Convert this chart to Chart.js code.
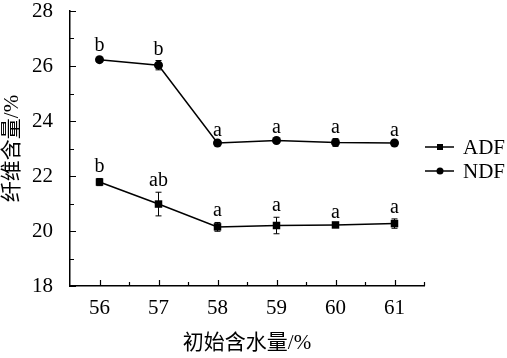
<!DOCTYPE html>
<html>
<head>
<meta charset="utf-8">
<script src="https://cdn.jsdelivr.net/npm/chart.js@4"></script>
<style>
  html, body { margin: 0; padding: 0; background: #fff; }
  #wrap { width: 507px; height: 358px; }
</style>
</head>
<body>
<div id="wrap"><canvas id="c" width="507" height="358"></canvas></div>
<script>
// --- data ---
const xCats = [56, 57, 58, 59, 60, 61];
const adfVals = [21.78, 20.98, 20.15, 20.20, 20.22, 20.27];
const adfErr  = [0.13, 0.43, 0.16, 0.30, 0.05, 0.17];
const ndfVals = [26.23, 26.03, 23.20, 23.29, 23.22, 23.20];
const ndfErr  = [0.08, 0.17, 0.05, 0.05, 0.14, 0.05];
const adfLetters = ['b', 'ab', 'a', 'a', 'a', 'a'];
const ndfLetters = ['b', 'b', 'a', 'a', 'a', 'a'];
const yTicks = [18, 20, 22, 24, 26, 28];

const SERIF = '"Liberation Serif", "Times New Roman", "Noto Sans CJK SC", serif';
const INK = '#000';

function pts(vals) {
  return xCats.map((x, i) => ({ x, y: vals[i] }));
}

// error bars, inward ticks, letters, legend
const decor = {
  id: 'decor',
  beforeDatasetsDraw(chart) {
    const { ctx, scales: { x, y } } = chart;
    ctx.save();
    ctx.strokeStyle = INK;
    ctx.lineWidth = 1;
    [[adfVals, adfErr], [ndfVals, ndfErr]].forEach(([vals, errs]) => {
      vals.forEach((v, i) => {
        const px = x.getPixelForValue(xCats[i]);
        const top = y.getPixelForValue(v + errs[i]);
        const bot = y.getPixelForValue(v - errs[i]);
        ctx.beginPath();
        ctx.moveTo(px, top); ctx.lineTo(px, bot);
        ctx.moveTo(px - 3, top); ctx.lineTo(px + 3, top);
        ctx.moveTo(px - 3, bot); ctx.lineTo(px + 3, bot);
        ctx.stroke();
      });
    });
    ctx.restore();
  },
  afterDraw(chart) {
    const { ctx, chartArea: a, scales: { x, y } } = chart;
    ctx.save();
    ctx.strokeStyle = INK;
    ctx.lineWidth = 1.2;
    ctx.beginPath();
    // y ticks (major at even, minor at odd)
    for (let v = 18; v <= 28; v++) {
      const py = Math.round(y.getPixelForValue(v)) + 0.5;
      const len = v % 2 === 0 ? 6 : 4;
      ctx.moveTo(a.left, py); ctx.lineTo(a.left + len, py);
    }
    // x ticks (major at integers, minor at halves)
    for (let v = 56; v <= 61.5; v += 0.5) {
      const px = Math.round(x.getPixelForValue(v)) + 0.5;
      const len = Number.isInteger(v) ? 6 : 4;
      ctx.moveTo(px, a.bottom); ctx.lineTo(px, a.bottom - len);
    }
    ctx.stroke();

    // significance letters
    ctx.fillStyle = INK;
    ctx.font = '20px ' + SERIF;
    ctx.textAlign = 'center';
    ctx.textBaseline = 'alphabetic';
    [[adfVals, adfErr, adfLetters], [ndfVals, ndfErr, ndfLetters]].forEach(([vals, errs, letters]) => {
      vals.forEach((v, i) => {
        const px = x.getPixelForValue(xCats[i]);
        const py = y.getPixelForValue(v + errs[i]) - 6;
        ctx.fillText(letters[i], px, py);
      });
    });

    // legend
    const items = [
      { label: 'ADF', style: 'rect', yy: 147 },
      { label: 'NDF', style: 'circle', yy: 171 }
    ];
    ctx.font = '21px ' + SERIF;
    ctx.textAlign = 'left';
    ctx.textBaseline = 'middle';
    items.forEach(it => {
      ctx.lineWidth = 1.5;
      ctx.beginPath();
      ctx.moveTo(425, it.yy); ctx.lineTo(454, it.yy);
      ctx.stroke();
      ctx.beginPath();
      if (it.style === 'rect') ctx.rect(437, it.yy - 3, 6, 6);
      else ctx.arc(440, it.yy, 3.5, 0, Math.PI * 2);
      ctx.fill();
      ctx.fillText(it.label, 463, it.yy + 1);
    });
    ctx.restore();
  }
};

new Chart(document.getElementById('c'), {
  type: 'line',
  data: {
    datasets: [
      {
        label: 'ADF',
        data: pts(adfVals),
        borderColor: INK,
        backgroundColor: INK,
        borderWidth: 1.5,
        pointStyle: 'rect',
        pointRadius: 5.3,
        pointBorderWidth: 0,
        tension: 0
      },
      {
        label: 'NDF',
        data: pts(ndfVals),
        borderColor: INK,
        backgroundColor: INK,
        borderWidth: 1.5,
        pointStyle: 'circle',
        pointRadius: 4.5,
        pointBorderWidth: 0,
        tension: 0
      }
    ]
  },
  options: {
    responsive: false,
    animation: false,
    events: [],
    layout: { padding: { left: 0, right: 83, top: 11, bottom: 0 } },
    plugins: { legend: { display: false }, tooltip: { enabled: false } },
    scales: {
      x: {
        type: 'linear',
        min: 55.5,
        max: 61.5,
        afterBuildTicks: s => { s.ticks = xCats.map(v => ({ value: v })); },
        afterFit: s => { s.height = 72; s.paddingLeft = 0; s.paddingRight = 0; },
        grid: { display: false },
        border: { color: INK, width: 1.5 },
        ticks: { color: INK, font: { family: SERIF, size: 21 }, padding: 2, maxRotation: 0 },
        title: {
          display: true,
          text: '初始含水量/%',
          color: INK,
          font: { family: SERIF, size: 21 },
          padding: { top: 0, bottom: 2 }
        }
      },
      y: {
        min: 18,
        max: 28,
        afterBuildTicks: s => { s.ticks = yTicks.map(v => ({ value: v })); },
        afterFit: s => { s.width = 70; s.paddingTop = 0; s.paddingBottom = 0; },
        grid: { display: false },
        border: { color: INK, width: 1.5 },
        ticks: { color: INK, font: { family: SERIF, size: 21 }, padding: 9 },
        title: {
          display: true,
          text: '纤维含量/%',
          color: INK,
          font: { family: SERIF, size: 21 },
          padding: { top: 0, bottom: 0 }
        }
      }
    }
  },
  plugins: [decor]
});
</script>
</body>
</html>
